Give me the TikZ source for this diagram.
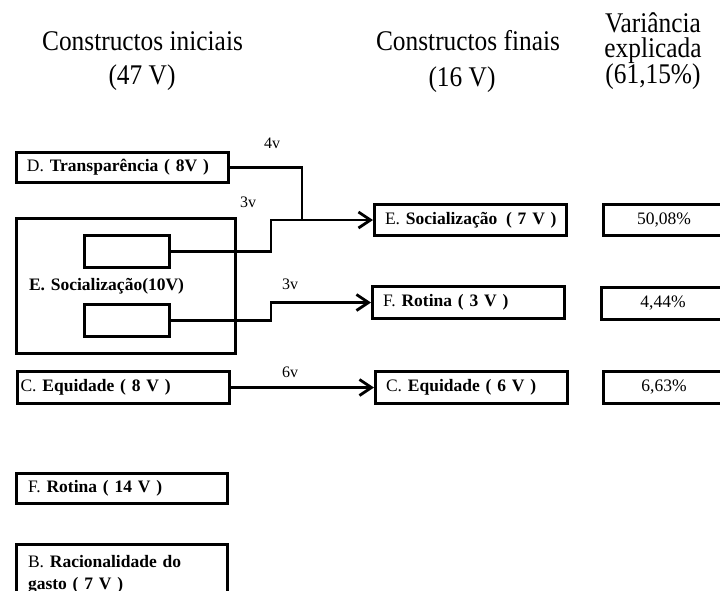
\documentclass[tikz,border=0pt]{standalone}
\usepackage{graphicx}
\usepackage{fontspec}
\setmainfont{Liberation Serif}
\usetikzlibrary{arrows.meta}
\begin{document}
\begin{tikzpicture}[x=1pt,y=-1pt,
  bx/.style={draw, line width=2.8pt, inner xsep=0pt, inner ysep=0pt, align=left, font=\fontsize{17.5}{22}\selectfont},
  vbx/.style={draw, line width=2.8pt, inner sep=0pt, align=center, font=\fontsize{17.5}{21}\selectfont},
  hd/.style={anchor=base, inner sep=0pt, font=\fontsize{28.5}{30}\selectfont},
  lbl/.style={inner sep=0pt, font=\fontsize{16}{18}\selectfont},
  conn/.style={line width=2.8pt},
  arr/.style={conn, -{Straight Barb[length=12pt,width=16pt]}}]
\fill[white] (0,0) rectangle (720,590);
\useasboundingbox (0,0) rectangle (720,590);
\clip (0,0) rectangle (720,590);

% headers
\node[hd] (h1) at (142.5,50) {\scalebox{0.89}[1]{Constructos iniciais}};
\node[hd] (h2) at (142,84) {\scalebox{0.89}[1]{(47 V)}};
\node[hd] (h3) at (468,50) {\scalebox{0.89}[1]{Constructos finais}};
\node[hd] (h4) at (462,86) {\scalebox{0.89}[1]{(16 V)}};
\node[hd] (h5) at (653,32) {\scalebox{0.89}[1]{Variância}};
\node[hd] (h6) at (653,57) {\scalebox{0.89}[1]{explicada}};
\node[hd] (h7) at (653,83) {\scalebox{0.89}[1]{(61,15\%)}};

% initial constructs
\node[bx, minimum width=212.2, minimum height=30.2, text width=191] (D) at (122.5,167.5) {D. \textbf{Transparência ( 8V )}};
\node[bx, minimum width=219.2, minimum height=135.2, text width=194] (bigE) at (126,286) {\textbf{E. Socialização(10V)}};
\node[bx, minimum width=85.2, minimum height=32.2] (in1) at (127,251.5) {};
\node[bx, minimum width=85.2, minimum height=32.2] (in2) at (127,320.5) {};
\node[bx, minimum width=212.2, minimum height=32.2, text width=206] (Cl) at (123.5,387.5) {C. \textbf{Equidade ( 8 V )}};
\node[bx, minimum width=211.2, minimum height=30.2, text width=188] (FRl) at (122,488.5) {F. \textbf{Rotina ( 14 V )}};
\node[bx, anchor=north, minimum width=211.2, inner ysep=10.5pt, text width=188] (B) at (122,543.4) {B. \textbf{Racionalidade do}\\\textbf{gasto ( 7 V )}};

% final constructs
\node[bx, minimum width=192.2, minimum height=31.2, text width=171] (Ef) at (470.5,220) {\mbox{E. \textbf{Socialização\hspace{0.5em}( 7 V )}}};
\node[bx, minimum width=192.2, minimum height=32.2, text width=171] (Ff) at (468.5,302.5) {F. \textbf{Rotina ( 3 V )}};
\node[bx, minimum width=192.2, minimum height=32.2, text width=171] (Cf) at (471.5,387.5) {C. \textbf{Equidade ( 6 V )}};

% variance
\node[vbx, minimum width=121.2, minimum height=31.2] (V1) at (664,220) {50,08\%};
\node[vbx, minimum width=123.2, minimum height=32.2] (V2) at (663,303.5) {4,44\%};
\node[vbx, minimum width=121.2, minimum height=32.2] (V3) at (664,387.5) {6,63\%};

% connectors
\coordinate (j) at (302,220);
\draw[conn] (D.east) -| (j);
\draw[arr] (in1.east) -- ++(100,0) |- (Ef.west);
\draw[arr] (in2.east) -- ++(100,0) |- (Ff.west);
\draw[arr] (Cl.east) -- (Cf.west);

% labels
\node[lbl] (l4) at (272,143) {4v};
\node[lbl] (l3a) at (248,202) {3v};
\node[lbl] (l3b) at (290,284) {3v};
\node[lbl] (l6) at (290,372) {6v};
\end{tikzpicture}
\end{document}
